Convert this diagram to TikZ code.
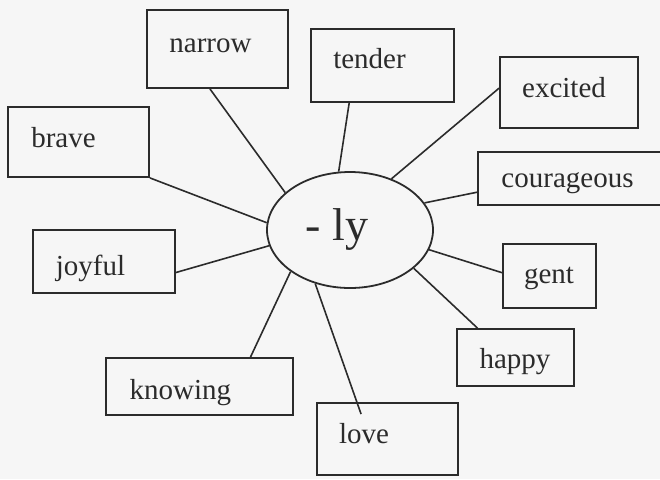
\documentclass[tikz,border=0pt]{standalone}
\usepackage{fontspec}
\setmainfont{Liberation Serif}
\usetikzlibrary{shapes.geometric,calc}
\definecolor{ink}{HTML}{2B2B2B}
\definecolor{paper}{HTML}{F6F6F6}
\tikzset{
  wbox/.style={draw=ink, line width=0.9pt, rectangle, inner sep=0pt},
  wtext/.style={text=ink, anchor=base, inner sep=0pt, font=\fontsize{14.5}{17}\selectfont},
  link/.style={draw=ink, line width=0.8pt},
}
\begin{document}
\begin{tikzpicture}[x=0.5pt, y=-0.5pt]
\fill[paper] (0,0) rectangle (660,479);
\clip (0,0) rectangle (660,479);
% centre
\node[draw=ink, line width=0.9pt, ellipse, inner sep=0pt, minimum width=83pt, minimum height=58pt] (ly) at (350,230) {};
\node[text=ink, anchor=base, inner sep=0pt, font=\fontsize{23}{26}\selectfont] (lytext) at (337,240) {- ly};
% boxes
\node[wbox, minimum width=70.5pt, minimum height=39pt]   (narrow) at (217.5,49) {};
\node[wbox, minimum width=71.5pt, minimum height=36.5pt] (tender) at (382.5,65.5) {};
\node[wbox, minimum width=69pt,   minimum height=35.5pt] (excited) at (569,92.5) {};
\node[wbox, minimum width=111pt,  minimum height=26.5pt] (courageous) at (589,178.5) {};
\node[wbox, minimum width=70.5pt, minimum height=35pt]   (brave) at (78.5,142) {};
\node[wbox, minimum width=71pt,   minimum height=31.5pt] (joyful) at (104,261.5) {};
\node[wbox, minimum width=93.5pt, minimum height=28.5pt] (knowing) at (199.5,386.5) {};
\node[wbox, minimum width=70.5pt, minimum height=36pt]   (love) at (387.5,439) {};
\node[wbox, minimum width=46.5pt, minimum height=32pt]   (gent) at (549.5,276) {};
\node[wbox, minimum width=58.5pt, minimum height=28.5pt] (happy) at (515.5,357.5) {};
% texts
\node[wtext] (tnarrow) at (210.5,52) {narrow};
\node[wtext] (ttender) at (369.5,68) {tender};
\node[wtext] (texcited) at (564,97) {excited};
\node[wtext] (tcourageous) at (567.5,187) {courageous};
\node[wtext] (tbrave) at (63.5,147) {brave};
\node[wtext] (tjoyful) at (90.5,275) {joyful};
\node[wtext] (tknowing) at (180.5,399) {knowing};
\node[wtext] (tgent) at (549,283) {gent};
\node[wtext] (thappy) at (515,368) {happy};
\node[wtext] (tlove) at (364,443) {love};
% connectors
\coordinate (loveend) at ($(love.north west)+(45,12)$);
\draw[link] ($(narrow.south west)!0.447!(narrow.south east)$) -- (ly.150.4);
\draw[link] (brave.south east) -- (ly.175);
\draw[link] ($(tender.south west)!0.27!(tender.south east)$) -- (ly.101.7);
\draw[link] ($(excited.north west)!0.44!(excited.south west)$) -- (ly.51.6);
\draw[link] ($(courageous.north west)!0.75!(courageous.south west)$) -- (ly.20);
\draw[link] ($(joyful.north east)!0.67!(joyful.south east)$) -- (ly.191.6);
\draw[link] ($(knowing.north west)!0.77!(knowing.north east)$) -- (ly.215.6);
\draw[link] (ly.237.4) -- (loveend);
\draw[link] ($(gent.north west)!0.45!(gent.south west)$) -- (ly.346.3);
\draw[link] ($(happy.north west)!0.18!(happy.north east)$) -- (ly.329);
\end{tikzpicture}
\end{document}
